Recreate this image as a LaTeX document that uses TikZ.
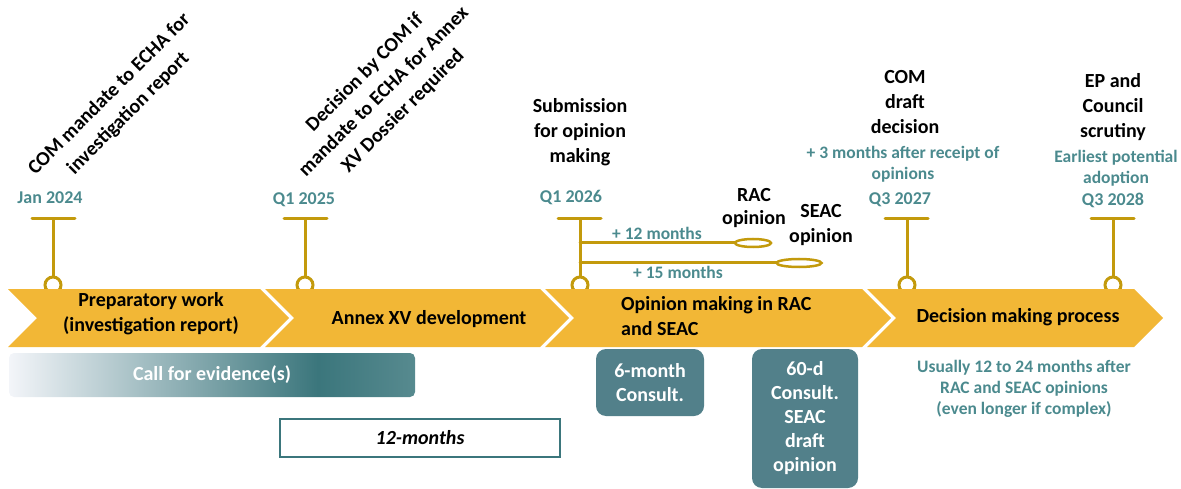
\documentclass[tikz,border=0pt]{standalone}
\usepackage{fontspec}
\setmainfont{Carlito}
\usepackage{tkz-euclide}
\usetikzlibrary{calc}
\definecolor{gold}{HTML}{C39A0C}
\definecolor{chevron}{HTML}{F2B736}
\definecolor{tealtxt}{HTML}{4B8A8E}
\definecolor{tealbox}{HTML}{52808A}
\definecolor{tealdark}{HTML}{3B767C}
\definecolor{tealend}{HTML}{578A8F}
\definecolor{fadeleft}{HTML}{F3F5F9}
\pgfdeclarehorizontalshading{callfade}{100bp}{color(0bp)=(fadeleft); color(25bp)=(fadeleft); color(63bp)=(tealdark); color(75bp)=(tealend); color(100bp)=(tealend)}

\begin{document}
\begin{tikzpicture}[x=1pt,y=-1pt,
  lbl/.style={font=\fontsize{20}{25}\selectfont\bfseries,align=center,inner sep=0pt},
  sub/.style={font=\fontsize{17.5}{21}\selectfont\bfseries,text=tealtxt,align=center,inner sep=0pt},
  date/.style={font=\fontsize{18}{22}\selectfont\bfseries,text=tealtxt,inner sep=0pt},
  chev/.style={fill=chevron},
  ring/.style={draw=gold,line width=3pt,fill=white},
  tbox/.style={fill=tealbox,rounded corners=10pt,text=white,align=center,
    font=\fontsize{20}{24}\selectfont\bfseries}]
\useasboundingbox (0,0) rectangle (1181,489);
\tkzSetUpLine[line width=3pt,color=gold]

\tkzDefPoints{32/219/aL,75/219/aR,53/219/aT,53/285/aC,
  284/219/bL,327/219/bR,305/219/bT,305/285/bC,
  558/219/cL,601/219/cR,580/219/cT,580/285/cC,
  885/219/dL,928/219/dR,907/219/dT,907/285/dC,
  1091/219/eL,1134/219/eR,1113/219/eT,1113/285/eC,
  580/243/cA,753/243/rac,580/263/cB,799/263/seac}

\tkzDrawSegments(aL,aR aT,aC bL,bR bT,bC cL,cR cT,cC dL,dR dT,dC eL,eR eT,eC)
\tkzDrawSegments(cA,rac cB,seac)
\foreach \p in {aC,bC,cC,dC,eC}
  \draw[ring] (\p) circle (8);
\draw[ring,line width=2.5pt] (rac) ellipse (18 and 4);
\draw[ring,line width=2.5pt] (seac) ellipse (22.5 and 4);

\foreach \l/\r in {8/260,265/540,545/862,867/1134}
  \fill[chev] (\l,289) -- (\r,289) -- ++(29,29) -- (\r,347) -- (\l,347) -- ++(29,-29) -- cycle;

\node[lbl] (prep) at (151,314) {Preparatory work\\(investigation report)};
\node[lbl] (annex) at (429,319) {Annex XV development};
\node[lbl,anchor=west,align=left] (opin) at (621,316) {Opinion making in RAC\\and SEAC};
\node[lbl] (decis) at (1018,317) {Decision making process};

\node[date] (jan) at (50,198) {Jan 2024};
\node[date] (q125) at (304,200) {Q1 2025};
\node[date] (q126) at (571,197) {Q1 2026};
\node[date] (q327) at (900,200) {Q3 2027};
\node[date] (q328) at (1113,200) {Q3 2028};

\node[lbl,rotate=45,font=\fontsize{20}{27}\selectfont\bfseries] (mand) at (119,104) {COM mandate to ECHA for\\investigation report};
\node[lbl,rotate=45,font=\fontsize{20}{27}\selectfont\bfseries] (dcom) at (384,92) {Decision by COM if\\mandate to ECHA for Annex\\XV Dossier required};
\node[lbl] (subm) at (580,132) {Submission\\for opinion\\making};
\node[lbl] (comd) at (905,102) {COM\\draft\\decision};
\node[lbl] (epc) at (1113,107) {EP and\\Council\\scrutiny};
\node[sub] (plus3) at (903,164) {+ 3 months after receipt of\\opinions};
\node[sub] (earl) at (1116,168) {Earliest potential\\adoption};
\node[lbl,font=\fontsize{20}{23}\selectfont\bfseries] (racl) at (754,208) {RAC\\opinion};
\node[lbl] (seacl) at (821,225) {SEAC\\opinion};
\node[sub] (m12) at (657,233) {+ 12 months};
\node[sub] (m15) at (678,272) {+ 15 months};

\node[shade,shading=callfade,rounded corners=5pt,minimum width=406,minimum height=44,
  text=white,font=\fontsize{20}{24}\selectfont\bfseries] (call) at (212,375) {Call for evidence(s)};
\node[draw=tealdark,line width=1.2pt,minimum width=280,minimum height=38,
  font=\fontsize{20}{24}\selectfont\bfseries\itshape] (twelve) at (420,438) {12-months};
\node[tbox,minimum width=108,minimum height=67] (six) at (650,382.5) {6-month\\Consult.};
\node[tbox,minimum width=106,minimum height=139] (sixty) at (805,418.5) {60-d\\Consult.\\SEAC\\draft\\opinion};
\node[sub] (usual) at (1024,389) {Usually 12 to 24 months after\\RAC and SEAC opinions\\(even longer if complex)};

\end{tikzpicture}
\end{document}
